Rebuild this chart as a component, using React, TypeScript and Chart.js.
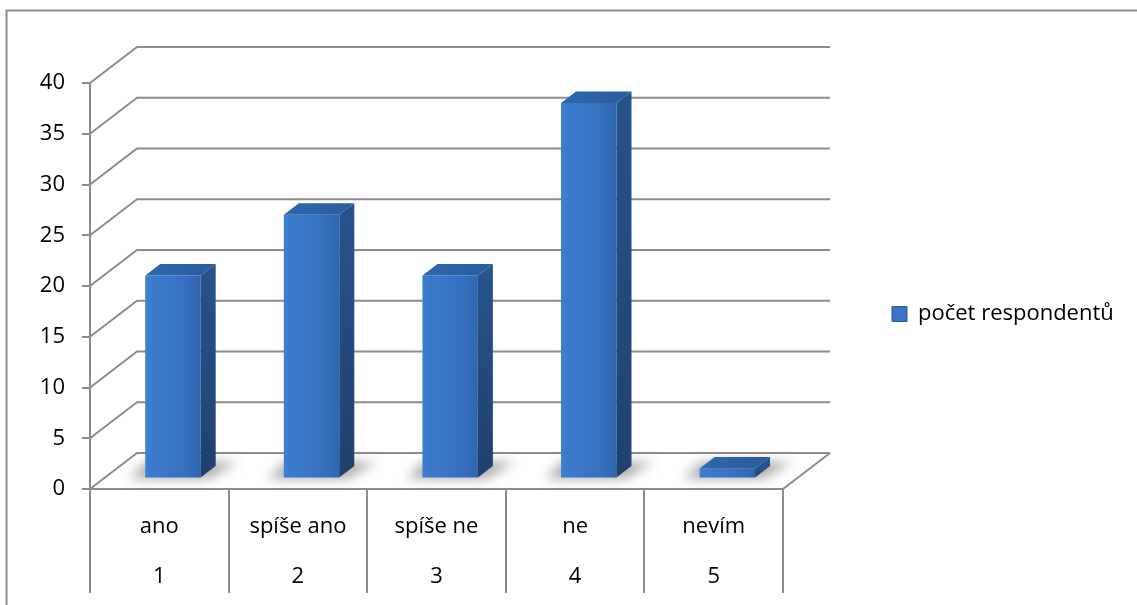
import React, { useEffect, useRef } from "react";
import { Chart, registerables } from "chart.js";

Chart.register(...registerables);

// ---- data ----
const categories = ["ano", "spíše ano", "spíše ne", "ne", "nevím"];
const categoryNumbers = ["1", "2", "3", "4", "5"];
const respondents = [20, 26, 20, 37, 1];
const seriesName = "počet respondentů";
const Y_MIN = 0;
const Y_MAX = 40;
const Y_STEP = 5;

// ---- style ----
const GRID = "#8c8c8c";
const GRID_W = 2;
const FONT = "'Open Sans', 'Noto Sans', sans-serif";
const FLOOR_DX = 47;
const FLOOR_DY = 36;
const BAR_OFF = 0.29; // front face position within depth
const BAR_DEPTH = 0.32; // bar depth relative to floor depth
const BAR_PCT = 0.4;
const LEGEND_GAP = 99;

function barGeom(bar: any) {
  const p = bar.getProps(["x", "y", "base", "width"], true);
  const ox = FLOOR_DX * BAR_OFF;
  const oy = FLOOR_DY * BAR_OFF;
  const left = p.x - p.width / 2 + ox;
  const right = p.x + p.width / 2 + ox;
  const top = Math.min(p.y, p.base) - oy;
  const bottom = Math.max(p.y, p.base) - oy;
  return { left, right, top, bottom };
}

const depthPlugin = {
  id: "depth3d",
  afterLayout(chart: any) {
    const lg = chart.legend;
    const a = chart.chartArea;
    if (!lg || !a) return;
    lg.left = a.right + LEGEND_GAP;
    lg.width = 260;
    lg.right = lg.left + lg.width;
    lg.top = a.top;
    lg.bottom = 545;
    lg.height = lg.bottom - lg.top;
  },
  beforeDraw(chart: any) {
    const ctx = chart.ctx;
    ctx.save();
    ctx.strokeStyle = GRID;
    ctx.lineWidth = GRID_W;
    ctx.beginPath();
    ctx.moveTo(6.5, chart.height);
    ctx.lineTo(6.5, 10.5);
    ctx.lineTo(chart.width, 10.5);
    ctx.stroke();
    ctx.restore();
  },
  beforeDatasetsDraw(chart: any) {
    const { ctx, chartArea: a, scales } = chart;
    const ys = scales.y;
    ctx.save();
    ctx.strokeStyle = GRID;
    ctx.lineWidth = GRID_W;
    ctx.lineJoin = "miter";
    ys.ticks.forEach((t: any) => {
      const py = ys.getPixelForValue(t.value);
      ctx.beginPath();
      ctx.moveTo(a.left, py);
      ctx.lineTo(a.left + FLOOR_DX, py - FLOOR_DY);
      ctx.lineTo(a.right + FLOOR_DX, py - FLOOR_DY);
      ctx.stroke();
    });
    const p0 = ys.getPixelForValue(Y_MIN);
    ctx.beginPath();
    ctx.moveTo(a.right, p0);
    ctx.lineTo(a.right + FLOOR_DX, p0 - FLOOR_DY);
    ctx.stroke();
    ctx.restore();

    // soft shadows on the floor
    const meta = chart.getDatasetMeta(0);
    const ddx = FLOOR_DX * BAR_DEPTH;
    const ddy = FLOOR_DY * BAR_DEPTH;
    meta.data.forEach((bar: any) => {
      const g = barGeom(bar);
      ctx.save();
      ctx.filter = "blur(6px)";
      ctx.fillStyle = "rgba(60,60,60,0.45)";
      ctx.beginPath();
      ctx.moveTo(g.left - 16, g.bottom + 1);
      ctx.lineTo(g.right + 8, g.bottom + 1);
      ctx.lineTo(g.right + ddx + 22, g.bottom - ddy - 4);
      ctx.lineTo(g.left + 2, g.bottom - ddy - 4);
      ctx.closePath();
      ctx.fill();
      ctx.restore();
    });
  },
  beforeDatasetDraw(chart: any) {
    const ctx = chart.ctx;
    ctx.save();
    ctx.translate(FLOOR_DX * BAR_OFF, -FLOOR_DY * BAR_OFF);
  },
  afterDatasetDraw(chart: any) {
    const ctx = chart.ctx;
    ctx.restore();
    const meta = chart.getDatasetMeta(0);
    const ddx = FLOOR_DX * BAR_DEPTH;
    const ddy = FLOOR_DY * BAR_DEPTH;
    meta.data.forEach((bar: any) => {
      const g = barGeom(bar);
      ctx.save();
      // side face
      const sg = ctx.createLinearGradient(0, g.top, 0, g.bottom);
      sg.addColorStop(0, "#27528a");
      sg.addColorStop(1, "#1f416e");
      ctx.fillStyle = sg;
      ctx.beginPath();
      ctx.moveTo(g.right, g.top);
      ctx.lineTo(g.right + ddx, g.top - ddy);
      ctx.lineTo(g.right + ddx, g.bottom - ddy);
      ctx.lineTo(g.right, g.bottom);
      ctx.closePath();
      ctx.fill();
      // top face
      const tg = ctx.createLinearGradient(g.left, 0, g.right + ddx, 0);
      tg.addColorStop(0, "#2f67ad");
      tg.addColorStop(1, "#2a5c9c");
      ctx.fillStyle = tg;
      ctx.beginPath();
      ctx.moveTo(g.left, g.top);
      ctx.lineTo(g.left + ddx, g.top - ddy);
      ctx.lineTo(g.right + ddx, g.top - ddy);
      ctx.lineTo(g.right, g.top);
      ctx.closePath();
      ctx.fill();
      ctx.restore();
    });
  },
};

function frontColor(c: any) {
  const chart = c.chart;
  const xs = chart.scales && chart.scales.x;
  if (!xs || c.type !== "data" || !chart.chartArea) return "#3a76c6";
  const cx = xs.getPixelForValue(c.dataIndex);
  const w = (xs.width / categories.length) * BAR_PCT;
  const g = chart.ctx.createLinearGradient(cx - w / 2, 0, cx + w / 2, 0);
  g.addColorStop(0, "#3f80d1");
  g.addColorStop(0.12, "#3b7acb");
  g.addColorStop(0.7, "#3671c0");
  g.addColorStop(1, "#2f66b0");
  return g;
}

export default function App() {
  const ref = useRef<HTMLCanvasElement | null>(null);

  useEffect(() => {
    document.body.style.margin = "0";
    if (!ref.current) return;
    const chart = new Chart(ref.current, {
      type: "bar",
      data: {
        labels: categories,
        datasets: [
          {
            label: seriesName,
            data: respondents,
            backgroundColor: frontColor as any,
            borderWidth: 0,
            categoryPercentage: 1,
            barPercentage: BAR_PCT,
            clip: false as any,
          },
        ],
      },
      options: {
        responsive: false,
        animation: false,
        events: [],
        layout: { padding: { left: 0, top: 83, right: 154, bottom: 0 } },
        plugins: {
          tooltip: { enabled: false },
          title: { display: false },
          legend: {
            position: "right",
            align: "center",
            maxWidth: 200,
            labels: {
              color: "#000",
              boxWidth: 15,
              boxHeight: 15,
              padding: 10,
              font: { family: FONT, size: 22 },
              generateLabels: (chart: any) => [
                {
                  text: chart.data.datasets[0].label,
                  fillStyle: "#3a74c2",
                  strokeStyle: "#2a5a9a",
                  lineWidth: 1,
                  hidden: false,
                  datasetIndex: 0,
                  fontColor: "#000",
                } as any,
              ],
            },
          },
        },
        scales: {
          x: {
            type: "category",
            offset: true,
            grid: {
              offset: true,
              drawOnChartArea: false,
              drawTicks: true,
              tickLength: 104,
              color: GRID,
              lineWidth: GRID_W,
            },
            border: { display: true, color: GRID, width: GRID_W },
            ticks: {
              padding: -91,
              maxRotation: 0,
              minRotation: 0,
              autoSkip: false,
              color: "#000",
              font: { family: FONT, size: 22, lineHeight: 50 / 22 },
              callback: (_v: any, i: number) => [categories[i], categoryNumbers[i]],
            },
            afterFit: (s: any) => {
              s.height = 116;
            },
          },
          y: {
            min: Y_MIN,
            max: Y_MAX,
            ticks: {
              stepSize: Y_STEP,
              padding: 17,
              color: "#000",
              font: { family: FONT, size: 22 },
            },
            grid: {
              drawOnChartArea: false,
              drawTicks: true,
              tickLength: 8,
              color: GRID,
              lineWidth: GRID_W,
            },
            border: { display: true, color: GRID, width: GRID_W },
            afterFit: (s: any) => {
              s.width = 90;
            },
          },
        },
      },
      plugins: [depthPlugin],
    });
    return () => chart.destroy();
  }, []);

  return (
    <div style={{ width: 1137, height: 605, background: "#fff" }}>
      <canvas ref={ref} width={1137} height={605} style={{ display: "block" }} />
    </div>
  );
}
